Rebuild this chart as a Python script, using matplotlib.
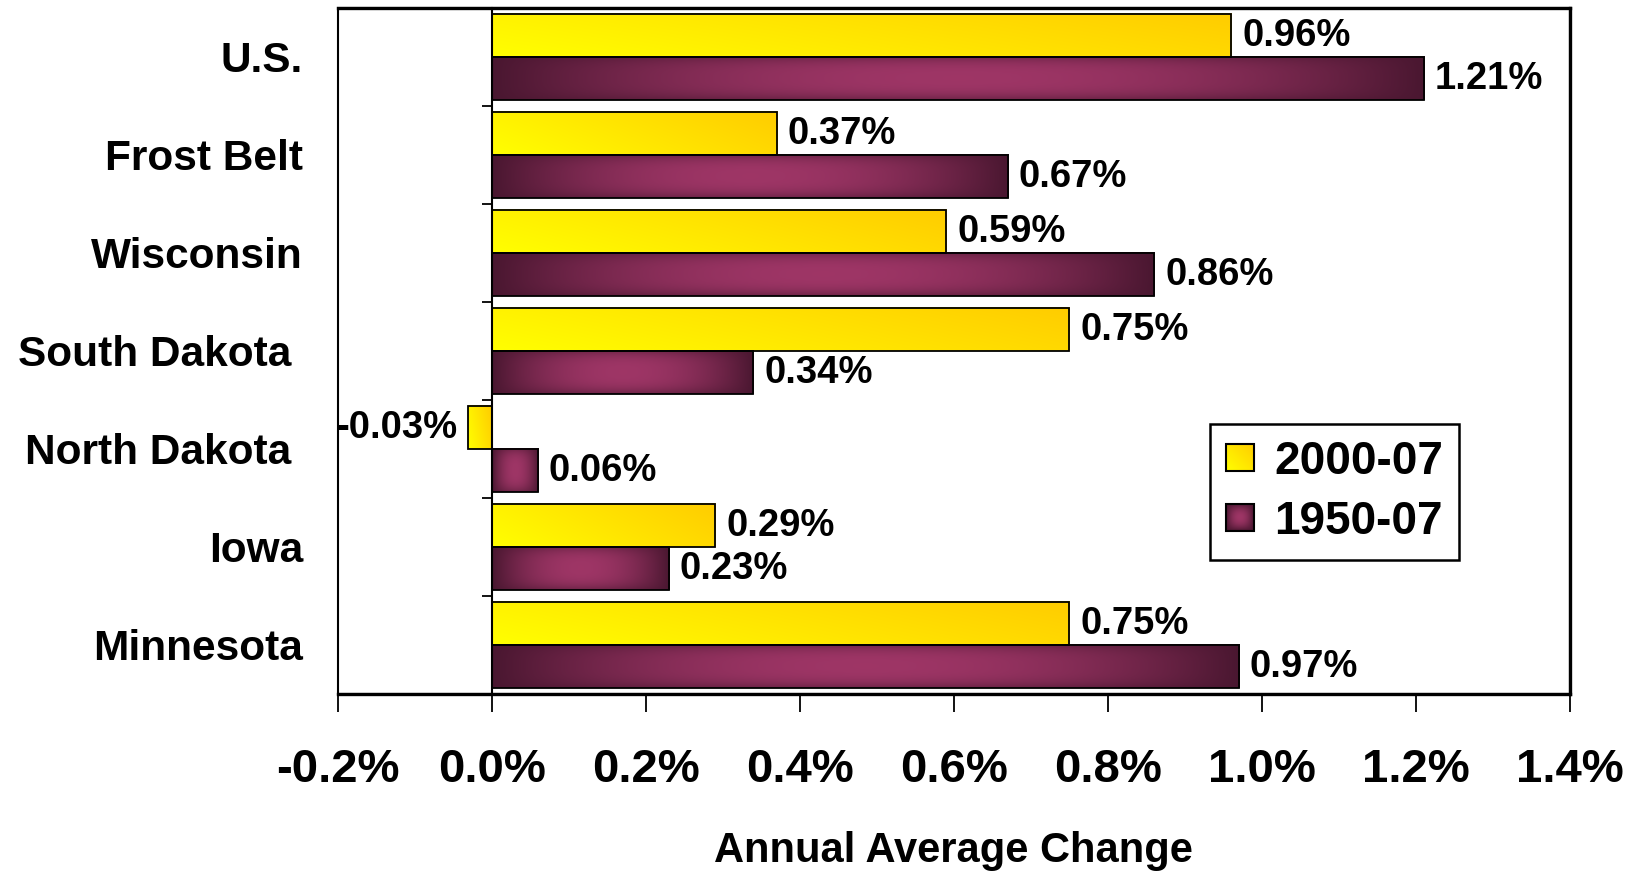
import numpy as np
import matplotlib
matplotlib.use("Agg")
import matplotlib.pyplot as plt
from matplotlib.patches import Rectangle
from matplotlib.legend_handler import HandlerBase
from matplotlib.image import BboxImage
from matplotlib.transforms import Bbox, TransformedBbox, blended_transform_factory

plt.rcParams["font.family"] = ["Liberation Sans", "DejaVu Sans"]
plt.rcParams["font.weight"] = "bold"

# data (annual average % change in population)
REGIONS = ["U.S.", "Frost Belt", "Wisconsin", "South Dakota ",
           "North Dakota ", "Iowa", "Minnesota"]
CHG_2000_07 = [0.96, 0.37, 0.59, 0.75, -0.03, 0.29, 0.75]
CHG_1950_07 = [1.21, 0.67, 0.86, 0.34, 0.06, 0.23, 0.97]
SERIES = ["2000-07", "1950-07"]
XTICKS = [-0.2, 0.0, 0.2, 0.4, 0.6, 0.8, 1.0, 1.2, 1.4]

YEL_A = np.array([1.0, 1.0, 0.0])
YEL_B = np.array([1.0, 0.80, 0.0])
MAR_EDGE = np.array([0.29, 0.09, 0.19])
MAR_MID = np.array([0.62, 0.21, 0.40])


def lerp(a, b, t):
    return a[None, None, :] * (1 - t[..., None]) + b[None, None, :] * t[..., None]


def yellow_img(nx=256, ny=64, wx=0.75):
    u = np.linspace(0, 1, nx)[None, :]
    v = np.linspace(0, 1, ny)[:, None]      # 0 = top row
    t = wx * u + (1 - wx) * (1 - v)
    return lerp(YEL_A, YEL_B, t)


def maroon_img(nx=256, ny=64):
    u = np.linspace(0, 1, nx)[None, :]
    v = np.linspace(0, 1, ny)[:, None]
    tx = 1 - np.abs(2 * u - 1) ** 2
    ty = 1 - np.abs(2 * v - 1) ** 3
    t = tx * (0.45 + 0.55 * ty)
    return lerp(MAR_EDGE, MAR_MID, t)


def maroon_square(n=64):
    u = np.linspace(0, 1, n)[None, :]
    v = np.linspace(0, 1, n)[:, None]
    t = (1 - np.abs(2 * u - 1) ** 2) * (1 - np.abs(2 * v - 1) ** 2)
    return lerp(MAR_EDGE, MAR_MID, t)


class GradientHandler(HandlerBase):
    def __init__(self, img):
        super().__init__()
        self.img = img

    def create_artists(self, legend, orig_handle, xdescent, ydescent,
                       width, height, fontsize, trans):
        s = min(width, height)
        x0 = -xdescent + (width - s) / 2
        y0 = -ydescent + (height - s) / 2
        bb = TransformedBbox(Bbox.from_bounds(x0, y0, s, s), trans)
        im = BboxImage(bb, interpolation="bilinear")
        im.set_data(self.img)
        rect = Rectangle((x0, y0), s, s, fill=False, ec="black", lw=1.5,
                         transform=trans)
        return [im, rect]


fig = plt.figure(figsize=(16.44, 8.74), dpi=100)
ax = fig.add_axes([0.2053, 0.2059, 0.7497, 0.7845])

y = np.arange(len(REGIONS))
h = 0.44
bars_a = ax.barh(y - h / 2, CHG_2000_07, height=h, facecolor="none",
                 edgecolor="black", linewidth=1.3, zorder=3)
bars_b = ax.barh(y + h / 2, CHG_1950_07, height=h, facecolor="none",
                 edgecolor="black", linewidth=1.3, zorder=3)

for bars, imgf in ((bars_a, yellow_img), (bars_b, maroon_img)):
    for p in bars:
        xa, xb = sorted([p.get_x(), p.get_x() + p.get_width()])
        ya, yb = p.get_y(), p.get_y() + p.get_height()
        ax.imshow(imgf(), extent=(xa, xb, yb, ya), origin="upper",
                  aspect="auto", interpolation="bilinear", zorder=2)

for bars, vals in ((bars_a, CHG_2000_07), (bars_b, CHG_1950_07)):
    ax.bar_label(bars, labels=[f"{v:.2f}%" for v in vals], padding=8,
                 fontsize=27.5, fontweight="bold")

ax.set_xlim(XTICKS[0], XTICKS[-1])
ax.set_ylim(len(REGIONS) - 0.5, -0.5)

# x axis
ax.set_xticks(XTICKS)
ax.set_xticklabels([f"{v:.1f}%" for v in XTICKS], fontsize=34,
                   fontweight="bold")
ax.tick_params(axis="x", length=13, width=1.3, pad=26, direction="out")
ax.set_xlabel("Annual Average Change", fontsize=30, fontweight="bold")
ax.xaxis.set_label_coords(0.5, -0.229)
ax.xaxis.label.set_va("center")

# category axis sits at zero, labels at the left edge
ax.spines["left"].set_position(("data", 0))
ax.spines["left"].set_linewidth(1.5)
ax.set_yticks(y)
ax.set_yticklabels([])
ax.tick_params(axis="y", which="major", length=0)
ax.set_yticks(np.arange(-0.5, len(REGIONS)), minor=True)
ax.tick_params(axis="y", which="minor", length=7.5, width=1.3,
               direction="out")
tr = blended_transform_factory(ax.transAxes, ax.transData)
for yi, name in zip(y, REGIONS):
    ax.text(-0.028, yi + 0.04, name, transform=tr, ha="right", va="center",
            fontsize=30.5, fontweight="bold")

ax.spines["bottom"].set_linewidth(2.4)
ax.spines["top"].set_linewidth(2.4)
ax.spines["right"].set_linewidth(2.4)
ax.add_patch(Rectangle((0, 0), 1, 1, transform=ax.transAxes, fill=False,
                       ec="black", lw=1.5, clip_on=False, zorder=4))

# legend
ha = Rectangle((0, 0), 1, 1)
hb = Rectangle((0, 0), 1, 1)
leg = ax.legend([ha, hb], SERIES,
                handler_map={ha: GradientHandler(yellow_img(64, 64, wx=0.5)),
                             hb: GradientHandler(maroon_square())},
                loc="center", bbox_to_anchor=(0.809, 0.295),
                prop={"size": 33, "weight": "bold"}, frameon=True,
                fancybox=False, edgecolor="black", framealpha=1,
                handlelength=0.6, handleheight=0.6, handletextpad=0.45,
                borderpad=0.35, labelspacing=0.35, borderaxespad=0)
leg.get_frame().set_linewidth(1.8)

fig.savefig("out.png", dpi=100)
